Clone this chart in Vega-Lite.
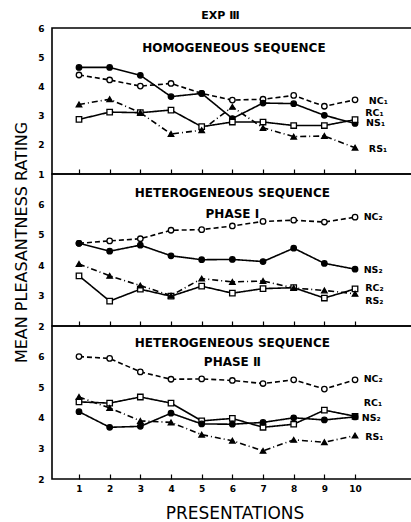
{
  "$schema": "https://vega.github.io/schema/vega-lite/v6.json",
  "background": "white",
  "padding": {"left": 12, "top": 9, "right": 0, "bottom": 0},
  "spacing": 0,
  "bounds": "flush",
  "config": {
    "font": "DejaVu Sans",
    "view": {"stroke": "black", "strokeWidth": 1.6},
    "axis": {"grid": false, "labelColor": "black", "titleColor": "black", "tickColor": "black", "domainColor": "black", "labelOverlap": false, "format": "d"}
  },
  "datasets": {
    "pts": [
      {"p": 1, "s": "NC1", "t": "NC", "x": 1, "y": 4.39}, {"p": 1, "s": "NC1", "t": "NC", "x": 2, "y": 4.22}, {"p": 1, "s": "NC1", "t": "NC", "x": 3, "y": 4.01}, {"p": 1, "s": "NC1", "t": "NC", "x": 4, "y": 4.1}, {"p": 1, "s": "NC1", "t": "NC", "x": 5, "y": 3.76}, {"p": 1, "s": "NC1", "t": "NC", "x": 6, "y": 3.53}, {"p": 1, "s": "NC1", "t": "NC", "x": 7, "y": 3.56}, {"p": 1, "s": "NC1", "t": "NC", "x": 8, "y": 3.69}, {"p": 1, "s": "NC1", "t": "NC", "x": 9, "y": 3.32}, {"p": 1, "s": "NC1", "t": "NC", "x": 10, "y": 3.54},
      {"p": 1, "s": "NS1", "t": "NS", "x": 1, "y": 4.65}, {"p": 1, "s": "NS1", "t": "NS", "x": 2, "y": 4.65}, {"p": 1, "s": "NS1", "t": "NS", "x": 3, "y": 4.38}, {"p": 1, "s": "NS1", "t": "NS", "x": 4, "y": 3.65}, {"p": 1, "s": "NS1", "t": "NS", "x": 5, "y": 3.76}, {"p": 1, "s": "NS1", "t": "NS", "x": 6, "y": 2.9}, {"p": 1, "s": "NS1", "t": "NS", "x": 7, "y": 3.43}, {"p": 1, "s": "NS1", "t": "NS", "x": 8, "y": 3.41}, {"p": 1, "s": "NS1", "t": "NS", "x": 9, "y": 3.01}, {"p": 1, "s": "NS1", "t": "NS", "x": 10, "y": 2.73},
      {"p": 1, "s": "RC1", "t": "RC", "x": 1, "y": 2.87}, {"p": 1, "s": "RC1", "t": "RC", "x": 2, "y": 3.12}, {"p": 1, "s": "RC1", "t": "RC", "x": 3, "y": 3.1}, {"p": 1, "s": "RC1", "t": "RC", "x": 4, "y": 3.19}, {"p": 1, "s": "RC1", "t": "RC", "x": 5, "y": 2.62}, {"p": 1, "s": "RC1", "t": "RC", "x": 6, "y": 2.78}, {"p": 1, "s": "RC1", "t": "RC", "x": 7, "y": 2.78}, {"p": 1, "s": "RC1", "t": "RC", "x": 8, "y": 2.66}, {"p": 1, "s": "RC1", "t": "RC", "x": 9, "y": 2.66}, {"p": 1, "s": "RC1", "t": "RC", "x": 10, "y": 2.86},
      {"p": 1, "s": "RS1", "t": "RS", "x": 1, "y": 3.38}, {"p": 1, "s": "RS1", "t": "RS", "x": 2, "y": 3.56}, {"p": 1, "s": "RS1", "t": "RS", "x": 3, "y": 3.1}, {"p": 1, "s": "RS1", "t": "RS", "x": 4, "y": 2.37}, {"p": 1, "s": "RS1", "t": "RS", "x": 5, "y": 2.5}, {"p": 1, "s": "RS1", "t": "RS", "x": 6, "y": 3.3}, {"p": 1, "s": "RS1", "t": "RS", "x": 7, "y": 2.58}, {"p": 1, "s": "RS1", "t": "RS", "x": 8, "y": 2.28}, {"p": 1, "s": "RS1", "t": "RS", "x": 9, "y": 2.3}, {"p": 1, "s": "RS1", "t": "RS", "x": 10, "y": 1.9},
      {"p": 2, "s": "NC2", "t": "NC", "x": 1, "y": 4.72}, {"p": 2, "s": "NC2", "t": "NC", "x": 2, "y": 4.8}, {"p": 2, "s": "NC2", "t": "NC", "x": 3, "y": 4.87}, {"p": 2, "s": "NC2", "t": "NC", "x": 4, "y": 5.15}, {"p": 2, "s": "NC2", "t": "NC", "x": 5, "y": 5.17}, {"p": 2, "s": "NC2", "t": "NC", "x": 6, "y": 5.29}, {"p": 2, "s": "NC2", "t": "NC", "x": 7, "y": 5.44}, {"p": 2, "s": "NC2", "t": "NC", "x": 8, "y": 5.48}, {"p": 2, "s": "NC2", "t": "NC", "x": 9, "y": 5.42}, {"p": 2, "s": "NC2", "t": "NC", "x": 10, "y": 5.58},
      {"p": 2, "s": "NS2", "t": "NS", "x": 1, "y": 4.72}, {"p": 2, "s": "NS2", "t": "NS", "x": 2, "y": 4.46}, {"p": 2, "s": "NS2", "t": "NS", "x": 3, "y": 4.66}, {"p": 2, "s": "NS2", "t": "NS", "x": 4, "y": 4.31}, {"p": 2, "s": "NS2", "t": "NS", "x": 5, "y": 4.18}, {"p": 2, "s": "NS2", "t": "NS", "x": 6, "y": 4.19}, {"p": 2, "s": "NS2", "t": "NS", "x": 7, "y": 4.12}, {"p": 2, "s": "NS2", "t": "NS", "x": 8, "y": 4.56}, {"p": 2, "s": "NS2", "t": "NS", "x": 9, "y": 4.06}, {"p": 2, "s": "NS2", "t": "NS", "x": 10, "y": 3.87},
      {"p": 2, "s": "RC2", "t": "RC", "x": 1, "y": 3.65}, {"p": 2, "s": "RC2", "t": "RC", "x": 2, "y": 2.82}, {"p": 2, "s": "RC2", "t": "RC", "x": 3, "y": 3.21}, {"p": 2, "s": "RC2", "t": "RC", "x": 4, "y": 2.98}, {"p": 2, "s": "RC2", "t": "RC", "x": 5, "y": 3.31}, {"p": 2, "s": "RC2", "t": "RC", "x": 6, "y": 3.08}, {"p": 2, "s": "RC2", "t": "RC", "x": 7, "y": 3.23}, {"p": 2, "s": "RC2", "t": "RC", "x": 8, "y": 3.26}, {"p": 2, "s": "RC2", "t": "RC", "x": 9, "y": 2.92}, {"p": 2, "s": "RC2", "t": "RC", "x": 10, "y": 3.22},
      {"p": 2, "s": "RS2", "t": "RS", "x": 1, "y": 4.04}, {"p": 2, "s": "RS2", "t": "RS", "x": 2, "y": 3.65}, {"p": 2, "s": "RS2", "t": "RS", "x": 3, "y": 3.33}, {"p": 2, "s": "RS2", "t": "RS", "x": 4, "y": 3.0}, {"p": 2, "s": "RS2", "t": "RS", "x": 5, "y": 3.56}, {"p": 2, "s": "RS2", "t": "RS", "x": 6, "y": 3.45}, {"p": 2, "s": "RS2", "t": "RS", "x": 7, "y": 3.48}, {"p": 2, "s": "RS2", "t": "RS", "x": 8, "y": 3.25}, {"p": 2, "s": "RS2", "t": "RS", "x": 9, "y": 3.17}, {"p": 2, "s": "RS2", "t": "RS", "x": 10, "y": 3.06},
      {"p": 3, "s": "NC2", "t": "NC", "x": 1, "y": 6.0}, {"p": 3, "s": "NC2", "t": "NC", "x": 2, "y": 5.94}, {"p": 3, "s": "NC2", "t": "NC", "x": 3, "y": 5.5}, {"p": 3, "s": "NC2", "t": "NC", "x": 4, "y": 5.26}, {"p": 3, "s": "NC2", "t": "NC", "x": 5, "y": 5.27}, {"p": 3, "s": "NC2", "t": "NC", "x": 6, "y": 5.22}, {"p": 3, "s": "NC2", "t": "NC", "x": 7, "y": 5.12}, {"p": 3, "s": "NC2", "t": "NC", "x": 8, "y": 5.24}, {"p": 3, "s": "NC2", "t": "NC", "x": 9, "y": 4.94}, {"p": 3, "s": "NC2", "t": "NC", "x": 10, "y": 5.24},
      {"p": 3, "s": "RC1", "t": "RC", "x": 1, "y": 4.52}, {"p": 3, "s": "RC1", "t": "RC", "x": 2, "y": 4.48}, {"p": 3, "s": "RC1", "t": "RC", "x": 3, "y": 4.68}, {"p": 3, "s": "RC1", "t": "RC", "x": 4, "y": 4.48}, {"p": 3, "s": "RC1", "t": "RC", "x": 5, "y": 3.9}, {"p": 3, "s": "RC1", "t": "RC", "x": 6, "y": 3.98}, {"p": 3, "s": "RC1", "t": "RC", "x": 7, "y": 3.69}, {"p": 3, "s": "RC1", "t": "RC", "x": 8, "y": 3.79}, {"p": 3, "s": "RC1", "t": "RC", "x": 9, "y": 4.25}, {"p": 3, "s": "RC1", "t": "RC", "x": 10, "y": 4.05},
      {"p": 3, "s": "NS2", "t": "NS", "x": 1, "y": 4.2}, {"p": 3, "s": "NS2", "t": "NS", "x": 2, "y": 3.69}, {"p": 3, "s": "NS2", "t": "NS", "x": 3, "y": 3.72}, {"p": 3, "s": "NS2", "t": "NS", "x": 4, "y": 4.15}, {"p": 3, "s": "NS2", "t": "NS", "x": 5, "y": 3.8}, {"p": 3, "s": "NS2", "t": "NS", "x": 6, "y": 3.79}, {"p": 3, "s": "NS2", "t": "NS", "x": 7, "y": 3.85}, {"p": 3, "s": "NS2", "t": "NS", "x": 8, "y": 4.0}, {"p": 3, "s": "NS2", "t": "NS", "x": 9, "y": 3.93}, {"p": 3, "s": "NS2", "t": "NS", "x": 10, "y": 4.03},
      {"p": 3, "s": "RS1", "t": "RS", "x": 1, "y": 4.68}, {"p": 3, "s": "RS1", "t": "RS", "x": 2, "y": 4.32}, {"p": 3, "s": "RS1", "t": "RS", "x": 3, "y": 3.9}, {"p": 3, "s": "RS1", "t": "RS", "x": 4, "y": 3.85}, {"p": 3, "s": "RS1", "t": "RS", "x": 5, "y": 3.45}, {"p": 3, "s": "RS1", "t": "RS", "x": 6, "y": 3.25}, {"p": 3, "s": "RS1", "t": "RS", "x": 7, "y": 2.92}, {"p": 3, "s": "RS1", "t": "RS", "x": 8, "y": 3.28}, {"p": 3, "s": "RS1", "t": "RS", "x": 9, "y": 3.2}, {"p": 3, "s": "RS1", "t": "RS", "x": 10, "y": 3.42}
    ],
    "lab": [
      {"p": 1, "label": "NC₁", "x": 10.45, "y": 3.51},
      {"p": 1, "label": "RC₁", "x": 10.33, "y": 3.1},
      {"p": 1, "label": "NS₁", "x": 10.36, "y": 2.74},
      {"p": 1, "label": "RS₁", "x": 10.45, "y": 1.85},
      {"p": 2, "label": "NC₂", "x": 10.28, "y": 5.6},
      {"p": 2, "label": "NS₂", "x": 10.28, "y": 3.85},
      {"p": 2, "label": "RC₂", "x": 10.33, "y": 3.25},
      {"p": 2, "label": "RS₂", "x": 10.33, "y": 2.82},
      {"p": 3, "label": "NC₂", "x": 10.28, "y": 5.26},
      {"p": 3, "label": "RC₁", "x": 10.28, "y": 4.5},
      {"p": 3, "label": "NS₂", "x": 10.22, "y": 4.0},
      {"p": 3, "label": "RS₁", "x": 10.33, "y": 3.38}
    ],
    "head": [
      {"p": 1, "text": "HOMOGENEOUS SEQUENCE", "x": 6.05, "y": 5.32},
      {"p": 2, "text": "HETEROGENEOUS SEQUENCE", "x": 6.0, "y": 6.37},
      {"p": 2, "text": "PHASE I", "x": 6.0, "y": 5.7},
      {"p": 3, "text": "HETEROGENEOUS SEQUENCE", "x": 6.0, "y": 6.46},
      {"p": 3, "text": "PHASE Ⅱ", "x": 6.0, "y": 5.83}
    ]
  },
  "vconcat": [
    {
      "width": 365, "height": 146,
      "title": {"text": "EXP Ⅲ", "fontSize": 11, "fontWeight": "bold", "anchor": "middle", "frame": "group", "offset": 3, "dx": -14, "color": "black"},
      "layer": [
        {
          "data": {"name": "pts"},
          "transform": [{"filter": "datum.p == 1"}],
          "mark": {"type": "line", "color": "black", "strokeWidth": 1.6},
          "encoding": {
            "x": {"field": "x", "type": "quantitative", "scale": {"domain": [0.12, 12.02], "nice": false, "zero": false}, "axis": {"values": [1,2,3,4,5,6,7,8,9,10], "tickCount": 12, "format": "d", "labels": false, "tickSize": -5, "tickWidth": 1.2, "domain": false, "title": null}},
            "y": {"field": "y", "type": "quantitative", "scale": {"domain": [1, 6], "nice": false, "zero": false}, "axis": {"values": [1,2,3,4,5,6], "tickCount": 12, "format": "d", "ticks": false, "domain": false, "labelOverlap": false, "labelPadding": 8, "labelFontSize": 9, "labelFontWeight": "bold", "title": null}},
            "detail": {"field": "s"},
            "strokeDash": {"field": "t", "type": "nominal", "scale": {"domain": ["NC","NS","RC","RS"], "range": [[5,3],[1,0],[1,0],[6,3,1,3]]}, "legend": null}
          }
        },
        {
          "data": {"name": "pts"},
          "transform": [{"filter": "datum.p == 1"}],
          "mark": {"type": "point", "filled": true, "stroke": "black", "strokeWidth": 1.3, "size": 30, "opacity": 1},
          "encoding": {
            "x": {"field": "x", "type": "quantitative"},
            "y": {"field": "y", "type": "quantitative"},
            "shape": {"field": "t", "type": "nominal", "scale": {"domain": ["NC","NS","RC","RS"], "range": ["circle","circle","square","triangle-up"]}, "legend": null},
            "fill": {"field": "t", "type": "nominal", "scale": {"domain": ["NC","NS","RC","RS"], "range": ["white","black","white","black"]}, "legend": null}
          }
        },
        {
          "data": {"name": "lab"},
          "transform": [{"filter": "datum.p == 1"}],
          "mark": {"type": "text", "align": "left", "baseline": "middle", "fontSize": 9.5, "fontWeight": "bold", "color": "black"},
          "encoding": {"x": {"field": "x", "type": "quantitative"}, "y": {"field": "y", "type": "quantitative"}, "text": {"field": "label"}}
        },
        {
          "data": {"name": "head"},
          "transform": [{"filter": "datum.p == 1"}],
          "mark": {"type": "text", "align": "center", "baseline": "middle", "fontSize": 12, "fontWeight": "bold", "color": "black"},
          "encoding": {"x": {"field": "x", "type": "quantitative"}, "y": {"field": "y", "type": "quantitative"}, "text": {"field": "text"}}
        }
      ]
    },
    {
      "width": 365, "height": 152,
      "layer": [
        {
          "data": {"name": "pts"},
          "transform": [{"filter": "datum.p == 2"}],
          "mark": {"type": "line", "color": "black", "strokeWidth": 1.6},
          "encoding": {
            "x": {"field": "x", "type": "quantitative", "scale": {"domain": [0.12, 12.02], "nice": false, "zero": false}, "axis": {"values": [1,2,3,4,5,6,7,8,9,10], "tickCount": 12, "format": "d", "labels": false, "tickSize": -5, "tickWidth": 1.2, "domain": false, "title": null}},
            "y": {"field": "y", "type": "quantitative", "scale": {"domain": [2, 7], "nice": false, "zero": false}, "axis": {"values": [2,3,4,5,6], "tickCount": 12, "format": "d", "ticks": false, "domain": false, "labelOverlap": false, "labelPadding": 8, "labelFontSize": 9, "labelFontWeight": "bold", "title": "MEAN PLEASANTNESS RATING", "titleFontSize": 16, "titleFontWeight": "normal", "titlePadding": 8, "titleY": 68}},
            "detail": {"field": "s"},
            "strokeDash": {"field": "t", "type": "nominal", "scale": {"domain": ["NC","NS","RC","RS"], "range": [[5,3],[1,0],[1,0],[6,3,1,3]]}, "legend": null}
          }
        },
        {
          "data": {"name": "pts"},
          "transform": [{"filter": "datum.p == 2"}],
          "mark": {"type": "point", "filled": true, "stroke": "black", "strokeWidth": 1.3, "size": 30, "opacity": 1},
          "encoding": {
            "x": {"field": "x", "type": "quantitative"},
            "y": {"field": "y", "type": "quantitative"},
            "shape": {"field": "t", "type": "nominal", "scale": {"domain": ["NC","NS","RC","RS"], "range": ["circle","circle","square","triangle-up"]}, "legend": null},
            "fill": {"field": "t", "type": "nominal", "scale": {"domain": ["NC","NS","RC","RS"], "range": ["white","black","white","black"]}, "legend": null}
          }
        },
        {
          "data": {"name": "lab"},
          "transform": [{"filter": "datum.p == 2"}],
          "mark": {"type": "text", "align": "left", "baseline": "middle", "fontSize": 9.5, "fontWeight": "bold", "color": "black"},
          "encoding": {"x": {"field": "x", "type": "quantitative"}, "y": {"field": "y", "type": "quantitative"}, "text": {"field": "label"}}
        },
        {
          "data": {"name": "head"},
          "transform": [{"filter": "datum.p == 2"}],
          "mark": {"type": "text", "align": "center", "baseline": "middle", "fontSize": 12, "fontWeight": "bold", "color": "black"},
          "encoding": {"x": {"field": "x", "type": "quantitative"}, "y": {"field": "y", "type": "quantitative"}, "text": {"field": "text"}}
        }
      ]
    },
    {
      "width": 365, "height": 153,
      "layer": [
        {
          "data": {"name": "pts"},
          "transform": [{"filter": "datum.p == 3"}],
          "mark": {"type": "line", "color": "black", "strokeWidth": 1.6},
          "encoding": {
            "x": {"field": "x", "type": "quantitative", "scale": {"domain": [0.12, 12.02], "nice": false, "zero": false}, "axis": {"values": [1,2,3,4,5,6,7,8,9,10], "tickCount": 12, "format": "d", "tickSize": -5, "tickWidth": 1.2, "domain": false, "labelPadding": 10, "labelFontSize": 9, "labelFontWeight": "bold", "title": "PRESENTATIONS", "titleFontSize": 17, "titleFontWeight": "normal", "titlePadding": 12}},
            "y": {"field": "y", "type": "quantitative", "scale": {"domain": [2, 7], "nice": false, "zero": false}, "axis": {"values": [2,3,4,5,6], "tickCount": 12, "format": "d", "ticks": false, "domain": false, "labelOverlap": false, "labelPadding": 8, "labelFontSize": 9, "labelFontWeight": "bold", "title": null}},
            "detail": {"field": "s"},
            "strokeDash": {"field": "t", "type": "nominal", "scale": {"domain": ["NC","NS","RC","RS"], "range": [[5,3],[1,0],[1,0],[6,3,1,3]]}, "legend": null}
          }
        },
        {
          "data": {"name": "pts"},
          "transform": [{"filter": "datum.p == 3"}],
          "mark": {"type": "point", "filled": true, "stroke": "black", "strokeWidth": 1.3, "size": 30, "opacity": 1},
          "encoding": {
            "x": {"field": "x", "type": "quantitative"},
            "y": {"field": "y", "type": "quantitative"},
            "shape": {"field": "t", "type": "nominal", "scale": {"domain": ["NC","NS","RC","RS"], "range": ["circle","circle","square","triangle-up"]}, "legend": null},
            "fill": {"field": "t", "type": "nominal", "scale": {"domain": ["NC","NS","RC","RS"], "range": ["white","black","white","black"]}, "legend": null}
          }
        },
        {
          "data": {"name": "lab"},
          "transform": [{"filter": "datum.p == 3"}],
          "mark": {"type": "text", "align": "left", "baseline": "middle", "fontSize": 9.5, "fontWeight": "bold", "color": "black"},
          "encoding": {"x": {"field": "x", "type": "quantitative"}, "y": {"field": "y", "type": "quantitative"}, "text": {"field": "label"}}
        },
        {
          "data": {"name": "head"},
          "transform": [{"filter": "datum.p == 3"}],
          "mark": {"type": "text", "align": "center", "baseline": "middle", "fontSize": 12, "fontWeight": "bold", "color": "black"},
          "encoding": {"x": {"field": "x", "type": "quantitative"}, "y": {"field": "y", "type": "quantitative"}, "text": {"field": "text"}}
        }
      ]
    }
  ]
}
